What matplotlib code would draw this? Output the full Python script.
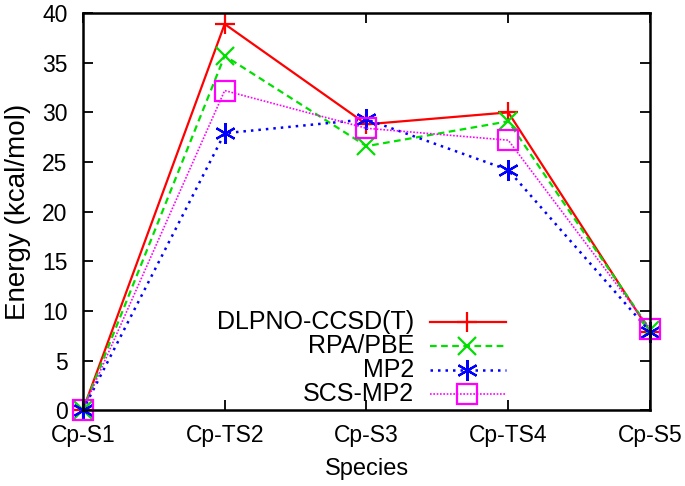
import matplotlib
matplotlib.use("Agg")
import matplotlib.pyplot as plt
from matplotlib.lines import Line2D

plt.rcParams['font.family'] = ['Liberation Sans', 'DejaVu Sans']

species = ["Cp-S1", "Cp-TS2", "Cp-S3", "Cp-TS4", "Cp-S5"]
dlpno = [0.0, 38.9, 28.8, 30.0, 7.9]
rpa = [0.0, 35.7, 26.6, 29.1, 8.1]
mp2 = [0.0, 27.9, 29.3, 24.2, 7.9]
scsmp2 = [0.0, 32.2, 28.4, 27.2, 8.2]
series_names = ["DLPNO-CCSD(T)", "RPA/PBE", "MP2", "SCS-MP2"]

fig = plt.figure(figsize=(6.85, 4.86), dpi=100)
ax = fig.add_axes([0.121, 0.156, 0.828, 0.817])

x = list(range(len(species)))
styles = [
    dict(color="#ff0000", linestyle="-", marker="+", markersize=15, mew=1.6, lw=1.6),
    dict(color="#00e000", linestyle=(0, (3, 2)), marker="x", markersize=13, mew=1.6, lw=1.6),
    dict(color="#0000ff", linestyle=(0, (1, 2)), marker=(6, 2, 0), markersize=15, mew=1.6, lw=1.8),
    dict(color="#ff00ff", linestyle=(0, (1, 1)), marker="s", markersize=14, mew=1.6, lw=1.2,
         markerfacecolor="none"),
]
data = [dlpno, rpa, mp2, scsmp2]
for vals, st in zip(data, styles):
    ax.plot(x, vals, clip_on=False, **st)

ax.set_xlim(0, 4)
ax.set_ylim(0, 40)
ax.set_yticks(range(0, 41, 5))
ax.set_xticks(x)
ax.set_xticklabels(species)
ax.tick_params(direction="in", top=True, right=True, length=7, width=1.3, labelsize=16.5)
ax.tick_params(axis="y", pad=11)
ax.tick_params(axis="x", pad=10)
for s in ax.spines.values():
    s.set_linewidth(1.8)
ax.set_ylabel("Energy (kcal/mol)", fontsize=20, labelpad=8)
ax.set_xlabel("Species", fontsize=17, labelpad=8)

# manual gnuplot-style legend (text right-aligned, sample on the right)
ax_w = 0.828 * 685
ax_h = 0.817 * 486
ax_x0 = 0.121 * 685
ax_y0 = 486 - (0.156 * 486)
def fx(px):
    return (px - ax_x0) / ax_w
def fy(py):
    return (ax_y0 - py) / ax_h

rows = [322, 346, 370, 394]
for name, st, py in zip(series_names, styles, rows):
    ax.text(fx(414), fy(py), name, transform=ax.transAxes, ha="right", va="center", fontsize=18)
    lst = dict(st)
    ms = lst.pop("marker"); msz = lst.pop("markersize")
    mfc = lst.pop("markerfacecolor", None)
    ax.add_line(Line2D([fx(430), fx(506)], [fy(py), fy(py)], transform=ax.transAxes,
                       color=lst["color"], linestyle=lst["linestyle"], lw=lst["lw"]))
    kw = dict(marker=ms, markersize=msz, mew=lst["mew"], color=lst["color"], linestyle="none")
    if mfc is not None:
        kw["markerfacecolor"] = mfc
    ax.add_line(Line2D([fx(467)], [fy(py)], transform=ax.transAxes, **kw))

fig.savefig("out.png", dpi=100)
